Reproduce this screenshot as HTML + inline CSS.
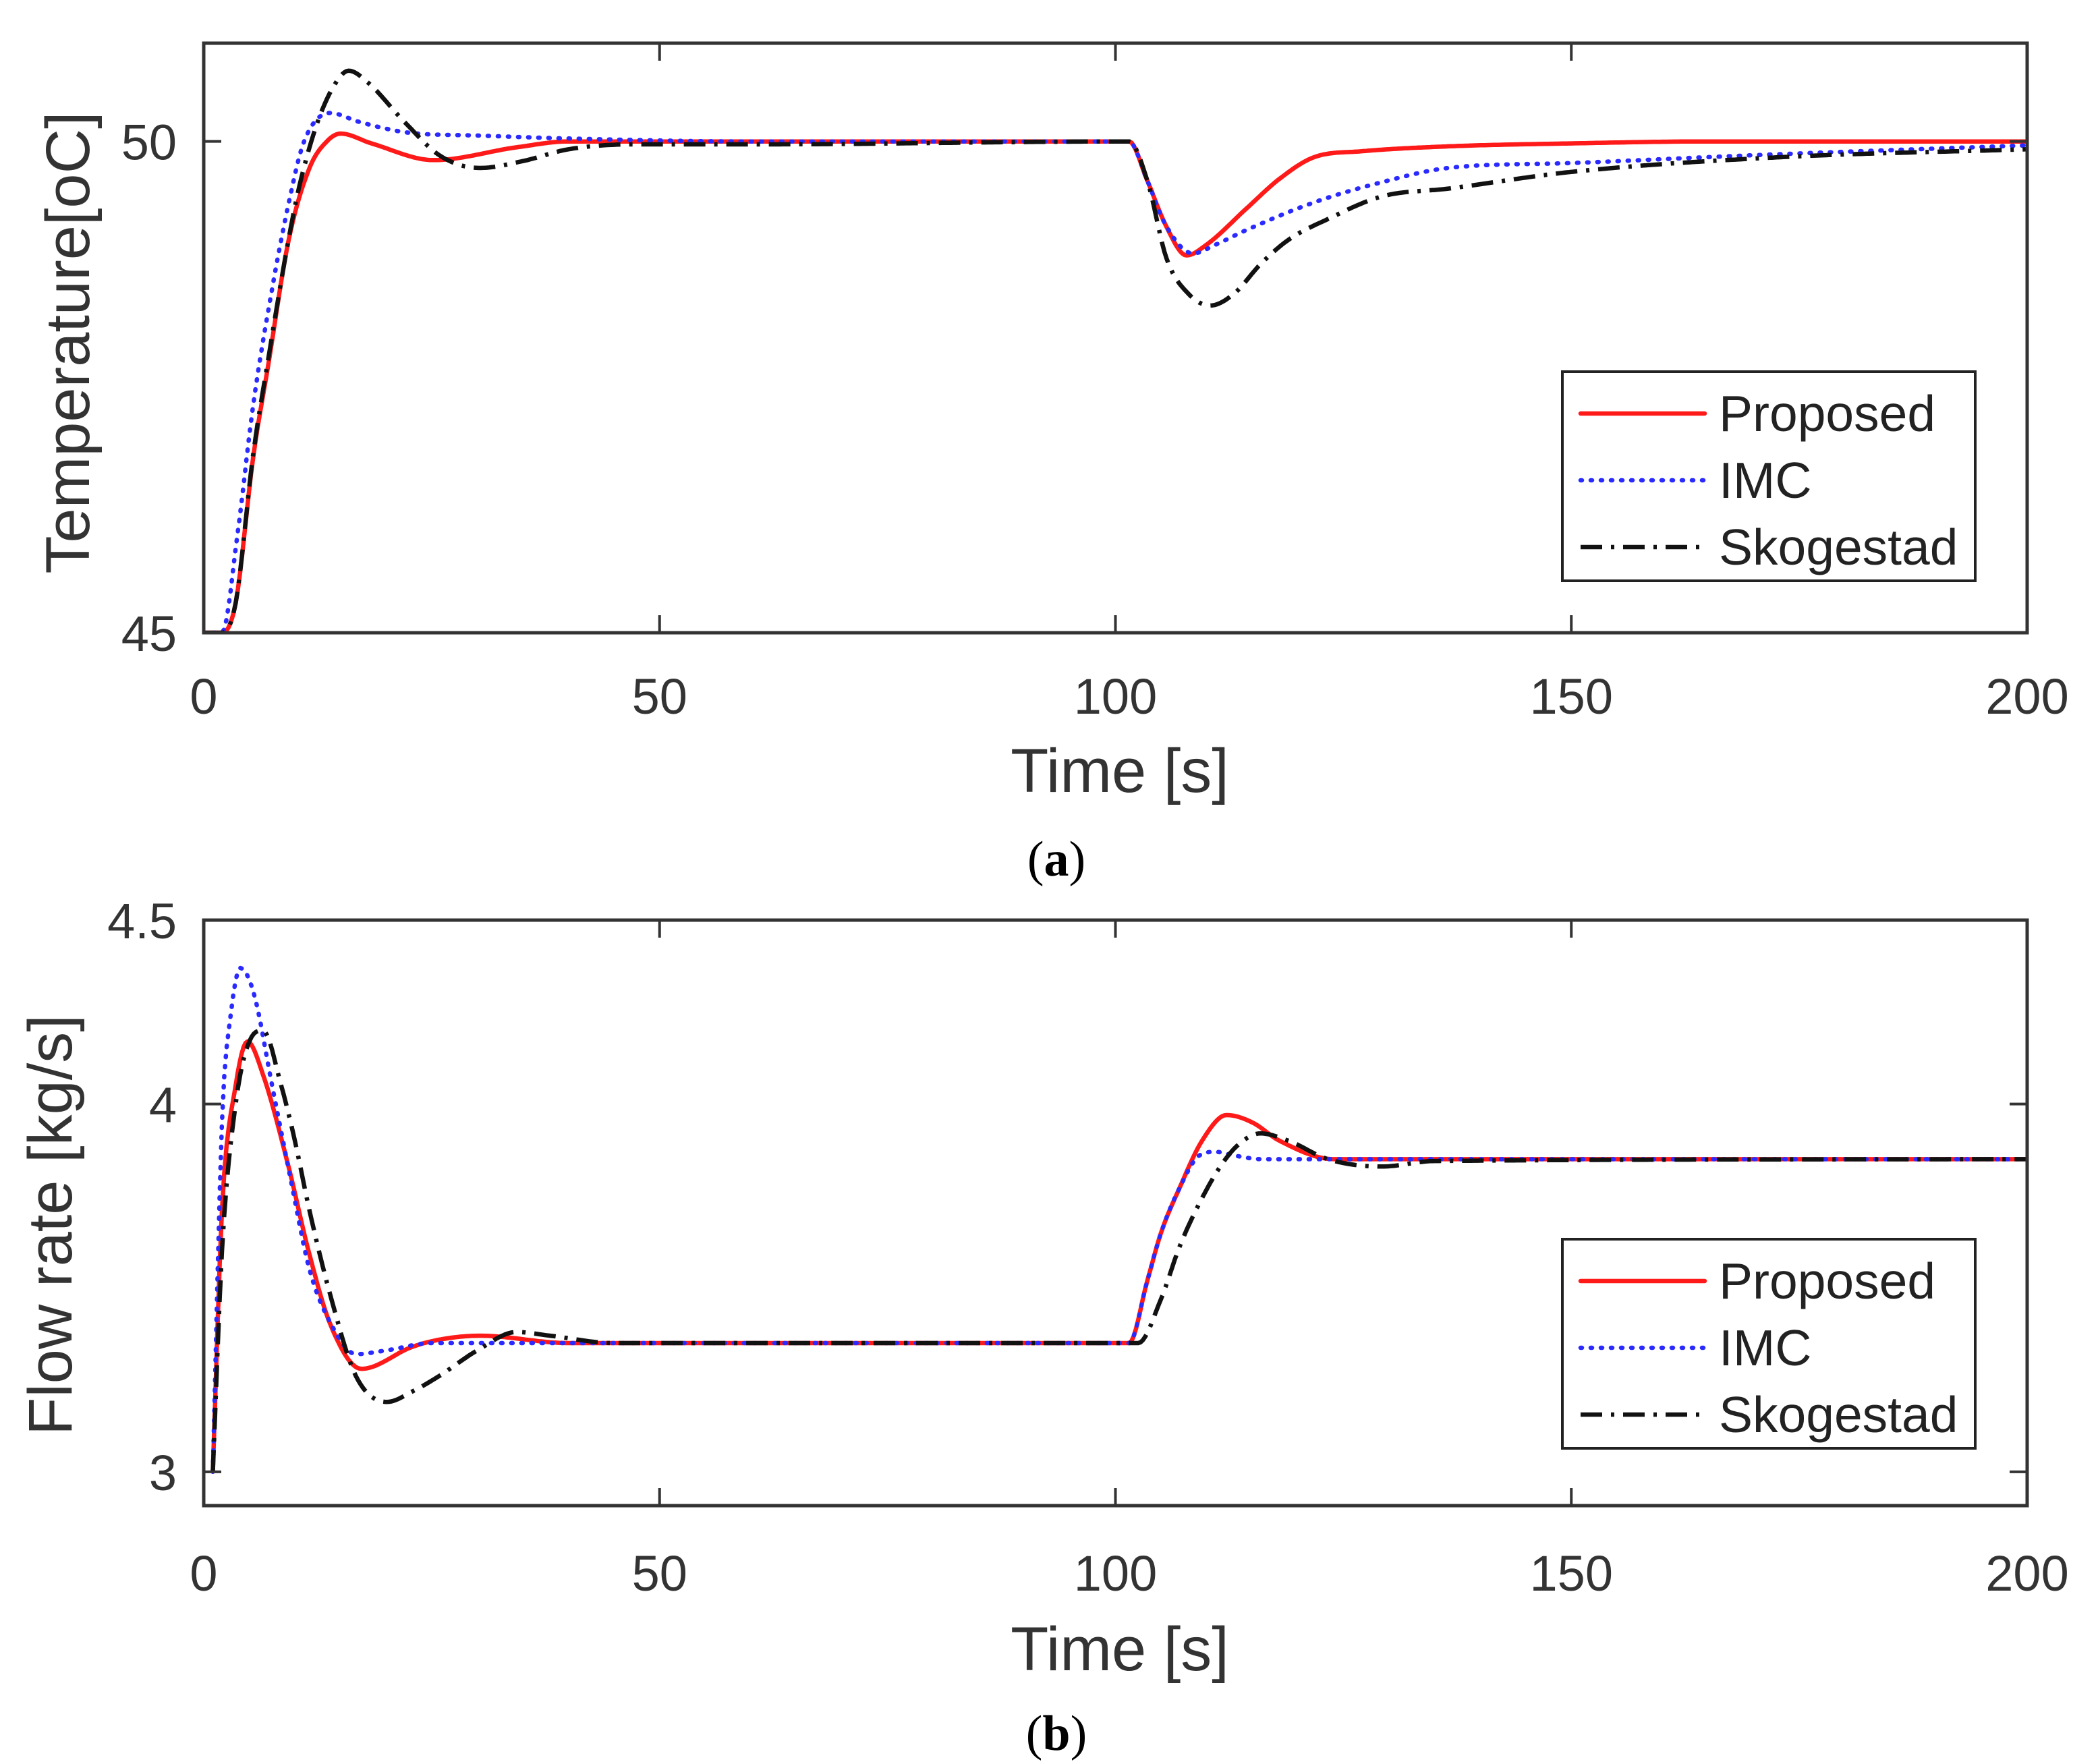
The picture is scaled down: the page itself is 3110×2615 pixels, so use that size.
<!DOCTYPE html>
<html><head><meta charset="utf-8"><style>
html,body{margin:0;padding:0;background:#fff;}
svg{display:block;font-family:"Liberation Sans",Arial,sans-serif;}
</style></head><body>
<svg id="fig" width="3110" height="2615" viewBox="0 0 3110 2615" xmlns="http://www.w3.org/2000/svg">
<rect width="3110" height="2615" fill="#fff"/>
<g id="pa"></g>
<g id="pb"></g>
<text x="1566" y="1298" text-anchor="middle" font-family="Liberation Serif,serif" font-size="74" fill="#000">(<tspan font-weight="bold">a</tspan>)</text>
<text x="1566" y="2594" text-anchor="middle" font-family="Liberation Serif,serif" font-size="74" fill="#000">(<tspan font-weight="bold">b</tspan>)</text>
</svg>
<script>
const xTicks = [0, 50, 100, 150, 200];
const tempTicks = [45, 50];
const flowTicks = [3, 4, 4.5];
const seriesNames = ["Proposed", "IMC", "Skogestad"];

const tempPropT = [0,2,3.5,5.4,7.1,9.3,11.6,13.5,15,18.4,25.2,34.3,40,60,101.5,103.5,105.5,107.8,110,114.4,118,121.8,127,136.5,150,165,200];
const tempPropV = [45,45,45.3,46.77,47.74,48.99,49.73,50.0,50.08,49.98,49.81,49.94,50,50,50,49.6,49.15,48.84,48.95,49.32,49.62,49.84,49.9,49.95,49.98,50,50];
const tempImcT = [0,2,3.7,5.4,7.5,9.5,11,13.9,17,22.4,30,40,60,101.5,103.5,105.5,108.5,111,114.4,121.8,129,136.5,150,170,200];
const tempImcV = [45,45,46.0,47.3,48.5,49.45,50.0,50.29,50.2,50.09,50.06,50.03,50,50,49.6,49.15,48.86,48.95,49.1,49.38,49.58,49.73,49.78,49.86,49.96];
const tempSkoT = [0,2,3.5,5.4,7.1,9.3,10.5,12.5,14.5,15.9,18,22,26,30.3,35,40,47,60,101.5,103.5,105.6,108,110.4,113,115.9,119,123.3,129.2,136.5,150,173,200];
const tempSkoV = [45,45,45.3,46.8,47.8,49.0,49.55,50.2,50.6,50.72,50.6,50.2,49.85,49.73,49.8,49.92,49.97,49.97,50,49.6,48.81,48.45,48.33,48.45,48.75,49.0,49.21,49.44,49.52,49.69,49.84,49.92];

const flowPropT = [1,2,3.5,4.8,6.5,9.3,11.5,13.9,17.3,22.9,26,30.3,40,60,101.5,103.5,105,107,109.5,112.2,115,118,124,135,200];
const flowPropV = [3.0,3.71,4.05,4.17,4.08,3.83,3.6,3.4,3.28,3.34,3.36,3.37,3.35,3.35,3.35,3.52,3.65,3.77,3.9,3.97,3.95,3.90,3.85,3.85,3.85];
const flowImcT = [1,2,3,4,5.5,7.5,9.5,11.6,14,16.7,20,25,35,60,101.5,103.5,105,107,109.2,111,113,116,125,200];
const flowImcV = [3.0,3.95,4.25,4.37,4.3,4.05,3.8,3.55,3.4,3.32,3.33,3.35,3.35,3.35,3.35,3.52,3.65,3.77,3.86,3.87,3.86,3.85,3.85,3.85];
const flowSkoT = [1,2,3.5,5,6.5,8.5,10,11.6,14,16.7,20.1,23,25.8,30,34.3,38,45,60,102.5,105,107,109,111.5,113.5,115.9,119,123.3,129.2,135,200];
const flowSkoV = [3.0,3.6,4.0,4.17,4.2,4.05,3.9,3.71,3.47,3.26,3.19,3.22,3.26,3.33,3.38,3.37,3.35,3.35,3.35,3.47,3.61,3.72,3.83,3.89,3.92,3.9,3.85,3.83,3.845,3.85];

const NS = "http://www.w3.org/2000/svg";
function mk(tag, attrs, parent){
  const e = document.createElementNS(NS, tag);
  for (const k in attrs) e.setAttribute(k, attrs[k]);
  parent.appendChild(e); return e;
}
function monoSample(xs, ys){
  const n = xs.length, d = [], m = new Array(n);
  for (let i = 0; i < n-1; i++) d.push((ys[i+1]-ys[i])/(xs[i+1]-xs[i]));
  m[0] = d[0]; m[n-1] = d[n-2];
  for (let i = 1; i < n-1; i++) m[i] = (d[i-1]*d[i] <= 0) ? 0 : (d[i-1]+d[i])/2;
  for (let i = 0; i < n-1; i++){
    if (d[i] === 0){ m[i]=0; m[i+1]=0; continue; }
    const a = m[i]/d[i], b = m[i+1]/d[i], s = a*a+b*b;
    if (s > 9){ const t = 3/Math.sqrt(s); m[i]=t*a*d[i]; m[i+1]=t*b*d[i]; }
  }
  const out = [];
  for (let i = 0; i < n-1; i++){
    const h = xs[i+1]-xs[i], steps = Math.max(2, Math.ceil(h/0.25));
    for (let k = 0; k < steps; k++){
      const t = k/steps, t2=t*t, t3=t2*t;
      const y = (2*t3-3*t2+1)*ys[i] + (t3-2*t2+t)*h*m[i] + (-2*t3+3*t2)*ys[i+1] + (t3-t2)*h*m[i+1];
      out.push([xs[i]+t*h, y]);
    }
  }
  out.push([xs[n-1], ys[n-1]]);
  return out;
}
const styles = [
  {stroke:"#ff1a1a", dash:"", cap:"round"},
  {stroke:"#2a2aff", dash:"2 13", cap:"round"},
  {stroke:"#111", dash:"32 13 5 13", cap:"butt"}
];
const LW = 6.5;

function panel(g, cfg){
  const L=302, R=3005, T=cfg.top, B=cfg.bottom;
  const xs = t => L + t / 200 * (R - L);
  const ys = v => B - (v - cfg.ymin) / (cfg.ymax - cfg.ymin) * (B - T);
  const cid = "clip" + cfg.id;
  const cp = mk("clipPath", {id: cid}, g);
  mk("rect", {x:L, y:T, width:R-L, height:B-T}, cp);
  cfg.series.forEach((s, i) => {
    const pts = monoSample(s.t, s.v).map(p => xs(p[0]).toFixed(1) + "," + ys(p[1]).toFixed(1));
    const p = mk("path", {d: "M" + pts.join("L"), fill:"none", stroke: styles[i].stroke, "stroke-width": LW, "stroke-dasharray": styles[i].dash, "stroke-linecap": styles[i].cap, "stroke-linejoin":"round", "clip-path":"url(#"+cid+")"}, g);
    
    
  });
  const box = mk("rect", {x:L, y:T, width:R-L, height:B-T, fill:"none", stroke:"#333", "stroke-width":5}, g);
  
  
  xTicks.forEach(t => {
    const x = xs(t);
    if (t > 0 && t < 200){
      const tk = mk("path", {d:"M"+x+","+B+"v-26M"+x+","+T+"v26", stroke:"#333", "stroke-width":4}, g);
      
      
    }
    const lb = mk("text", {x:x, y:cfg.xlabY, "text-anchor":"middle", "font-size":74, fill:"#333"}, g);
    lb.textContent = t;
    
    
  });
  cfg.yticks.forEach(v => {
    const y = ys(v);
    const tk = mk("path", {d:"M"+L+","+y+"h26M"+R+","+y+"h-26", stroke:"#333", "stroke-width":4}, g);
    
    
    const lb = mk("text", {x:262, y:y+27, "text-anchor":"end", "font-size":74, fill:"#333"}, g);
    lb.textContent = v;
    
    
  });
  const xt = mk("text", {x:1660, y:cfg.xtitleY, "text-anchor":"middle", "font-size":92, fill:"#333"}, g);
  xt.textContent = "Time [s]";
  
  
  const yt = mk("text", {x:0, y:0, "text-anchor":"middle", "font-size":92, fill:"#333", transform:"translate("+cfg.ytitleX+","+cfg.ytitleY+") rotate(-90)"}, g);
  yt.textContent = cfg.ytitle;
  
  
  const lg = mk("g", {}, g);
  
  
  mk("rect", {x:2316, y:cfg.legTop, width:612, height:310, fill:"#fff", stroke:"#222", "stroke-width":4}, lg);
  seriesNames.forEach((n, i) => {
    const y = cfg.legTop + 62 + i * 99;
    const ln = mk("path", {d:"M2343,"+y+"H2527", fill:"none", stroke:styles[i].stroke, "stroke-width":LW, "stroke-dasharray":styles[i].dash, "stroke-linecap":styles[i].cap}, lg);
    
    
    const tx = mk("text", {x:2548, y:y+26, "font-size":75, fill:"#222"}, lg);
    tx.textContent = n;
    
    
  });
}

panel(document.getElementById("pa"), {
  id:"a", top:64, bottom:938, ymin:45, ymax:51, yticks:tempTicks,
  xlabY:1058, xtitleY:1174, ytitle:"Temperature[oC]", ytitleX:132, ytitleY:508, legTop:551,
  series:[{t:tempPropT,v:tempPropV},{t:tempImcT,v:tempImcV},{t:tempSkoT,v:tempSkoV}]
});
panel(document.getElementById("pb"), {
  id:"b", top:1364, bottom:2232, ymin:2.908, ymax:4.5, yticks:flowTicks,
  xlabY:2358, xtitleY:2476, ytitle:"Flow rate [kg/s]", ytitleX:106, ytitleY:1816, legTop:1837,
  series:[{t:flowPropT,v:flowPropV},{t:flowImcT,v:flowImcV},{t:flowSkoT,v:flowSkoV}]
});
</script>
</body></html>
